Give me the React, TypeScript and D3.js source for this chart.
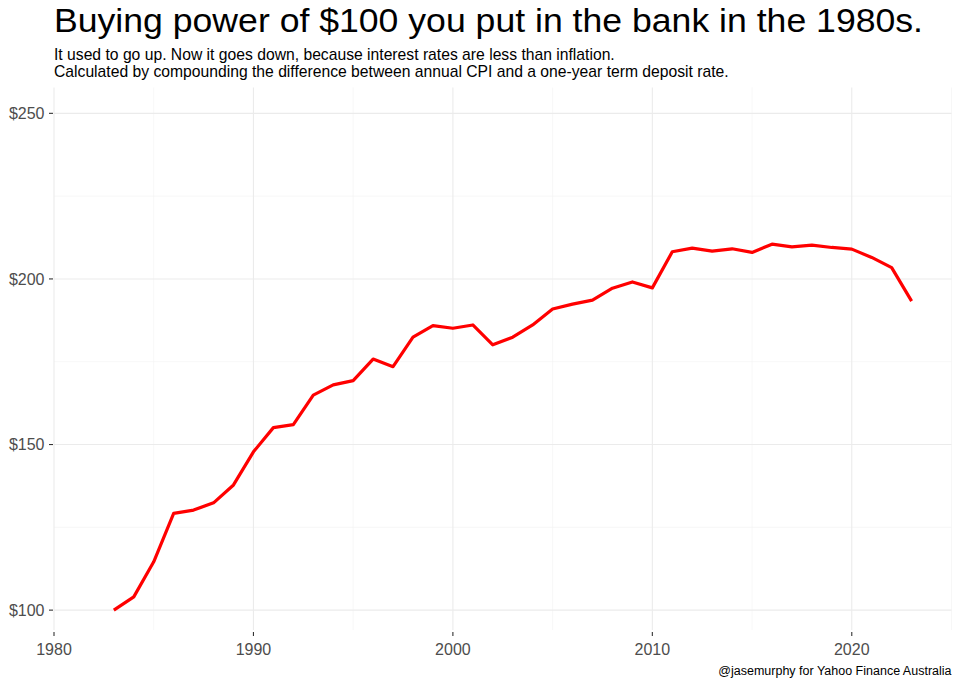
import React from "react";
import * as d3 from "d3";

const years: number[] = d3.range(1983, 2024);
const values: number[] = [
  100.0, 104.0, 114.6, 129.2, 130.2, 132.4, 137.8, 147.8, 155.1, 156.0,
  164.9, 168.0, 169.3, 175.8, 173.5, 182.4, 185.9, 185.1, 186.1, 180.1,
  182.4, 186.1, 190.9, 192.4, 193.6, 197.2, 199.1, 197.3, 208.2, 209.3,
  208.4, 209.1, 208.0, 210.5, 209.7, 210.2, 209.5, 209.0, 206.5, 203.4,
  193.3,
];
const xMajorTicks: number[] = [1980, 1990, 2000, 2010, 2020];
const xMinorTicks: number[] = [1985, 1995, 2005, 2015, 2025];
const yMajorTicks: number[] = [100, 150, 200, 250];
const yMinorTicks: number[] = [125, 175, 225];

const titleText = "Buying power of $100 you put in the bank in the 1980s.";
const subtitleLines = [
  "It used to go up. Now it goes down, because interest rates are less than inflation.",
  "Calculated by compounding the difference between annual CPI and a one-year term deposit rate.",
];
const captionText = "@jasemurphy for Yahoo Finance Australia";

const W = 960;
const H = 686;
const panel = { left: 54, right: 951.5, top: 87.5, bottom: 630 };
const FONT = "'Liberation Sans', Arial, Helvetica, sans-serif";

export default function App() {
  const x = d3.scaleLinear().domain([1980, 2025]).range([panel.left, panel.right]);
  const y = d3.scaleLinear().domain([94, 257.8]).range([panel.bottom, panel.top]);
  const line = d3
    .line<number>()
    .x((_, i) => x(years[i]))
    .y((d) => y(d));
  const fmt = (v: number) => "$" + d3.format("d")(v);

  return (
    <svg
      width={W}
      height={H}
      style={{ position: "absolute", left: 0, top: 0, background: "#fff" }}
      fontFamily={FONT}
    >
      <rect x={0} y={0} width={W} height={H} fill="#fff" />
      {/* minor grid */}
      {yMinorTicks.map((t) => (
        <line key={"ym" + t} x1={panel.left} x2={panel.right} y1={y(t)} y2={y(t)} stroke="#F2F2F2" strokeWidth={0.6} />
      ))}
      {xMinorTicks.map((t) => (
        <line key={"xm" + t} x1={x(t)} x2={x(t)} y1={panel.top} y2={panel.bottom} stroke="#F2F2F2" strokeWidth={0.6} />
      ))}
      {/* major grid */}
      {yMajorTicks.map((t) => (
        <line key={"yM" + t} x1={panel.left} x2={panel.right} y1={y(t)} y2={y(t)} stroke="#EBEBEB" strokeWidth={1.1} />
      ))}
      {xMajorTicks.map((t) => (
        <line key={"xM" + t} x1={x(t)} x2={x(t)} y1={panel.top} y2={panel.bottom} stroke="#EBEBEB" strokeWidth={1.1} />
      ))}
      {/* data line */}
      <path d={line(values) || ""} fill="none" stroke="#FF0000" strokeWidth={3.2} strokeLinejoin="round" strokeLinecap="butt" />
      {/* y axis ticks and labels */}
      {yMajorTicks.map((t) => (
        <g key={"yl" + t}>
          <line x1={panel.left - 5} x2={panel.left - 1} y1={y(t)} y2={y(t)} stroke="#333333" strokeWidth={1.1} />
          <text x={panel.left - 9.5} y={y(t)} dy="0.36em" textAnchor="end" fontSize={16} fill="#4D4D4D">
            {fmt(t)}
          </text>
        </g>
      ))}
      {/* x axis ticks and labels */}
      {xMajorTicks.map((t) => (
        <g key={"xl" + t}>
          <line x1={x(t)} x2={x(t)} y1={panel.bottom + 2} y2={panel.bottom + 6} stroke="#333333" strokeWidth={1.1} />
          <text x={x(t)} y={655} textAnchor="middle" fontSize={16} fill="#4D4D4D">
            {t}
          </text>
        </g>
      ))}
      {/* title */}
      <text x={panel.left} y={32} fontSize={33} fill="#000" textLength={869} lengthAdjust="spacingAndGlyphs">
        {titleText}
      </text>
      {subtitleLines.map((s, i) => (
        <text key={i} x={panel.left} y={60 + i * 17.3} fontSize={15.7} fill="#000">
          {s}
        </text>
      ))}
      <text x={panel.right} y={675} textAnchor="end" fontSize={12.5} fill="#000">
        {captionText}
      </text>
    </svg>
  );
}
